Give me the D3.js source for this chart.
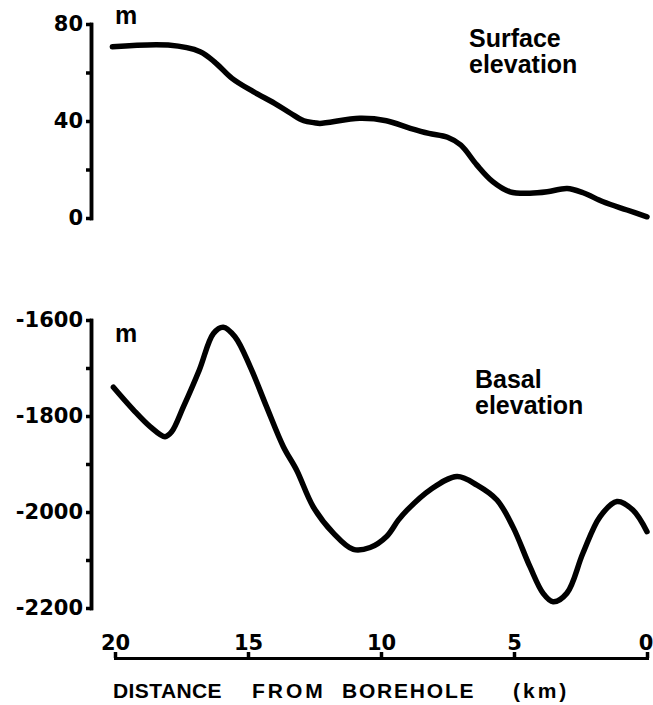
<!DOCTYPE html>
<html>
<head>
<meta charset="utf-8">
<script src="https://cdn.jsdelivr.net/npm/d3@7"></script>
<style>
  html, body { margin: 0; padding: 0; background: #fff; }
  svg { display: block; }
</style>
</head>
<body>
<svg id="chart" width="653" height="705"></svg>
<script>
// ---- data (distance from borehole in km, elevation in m) ----
const surfaceKm = [20.1, 18.0, 16.8, 16.2, 15.6, 14.8, 14.0, 13.4, 12.9, 12.5, 12.3, 10.8, 9.8, 8.9, 8.2, 7.5, 7.0, 6.4, 5.8, 5.15, 4.4, 3.75, 3.0, 2.4, 1.65, 0.75, 0];
const surfaceElev = [70.6, 71.3, 68.6, 63.8, 57.6, 52.1, 47.3, 43.2, 40.1, 39.3, 39.0, 41.1, 40.1, 37.0, 34.9, 33.3, 30.1, 21.9, 15.0, 10.8, 10.2, 10.8, 12.2, 10.4, 6.7, 3.3, 0.5];

const basalKm = [20.06, 19.31, 18.68, 18.12, 17.87, 17.43, 16.83, 16.30, 15.93, 15.49, 14.92, 14.30, 13.67, 13.17, 12.55, 11.79, 11.04, 10.41, 9.79, 9.35, 9.02, 8.16, 7.14, 6.39, 5.64, 5.04, 4.40, 3.91, 3.53, 3.01, 2.41, 1.77, 1.13, 0.53, 0];
const basalElev = [-1740, -1787, -1822, -1843, -1833, -1781, -1704, -1628, -1615, -1635, -1697, -1781, -1864, -1913, -1989, -2044, -2078, -2074, -2051, -2017, -1996, -1954, -1926, -1944, -1975, -2031, -2114, -2169, -2187, -2169, -2086, -2010, -1978, -1996, -2041];

const distanceTicks = [20, 15, 10, 5, 0];
const surfaceTicks = [0, 40, 80];
const surfaceMinorTicks = [20, 60];
const basalTicks = [-2200, -2000, -1800, -1600];
const basalMinorTicks = [-2100, -1900, -1700];

const unitLabel = "m";
const surfaceTitle = ["Surface", "elevation"];
const basalTitle = ["Basal", "elevation"];
const xTitleWords = ["DISTANCE", "FROM", "BOREHOLE", "(km)"];

// ---- layout ----
const svg = d3.select("#chart");
const yAxisX = 91;
const xAxisY = 658;
const tickFont = "'DejaVu Sans', sans-serif";
const textFont = "'Liberation Sans', Arial, sans-serif";

const x = d3.scaleLinear().domain([20, 0]).range([115, 647]);
const ySurf = d3.scaleLinear().domain([0, 80]).range([218, 24]);
const yBase = d3.scaleLinear().domain([-2200, -1600]).range([608, 320]);

function styleAxis(g, width) {
  g.selectAll(".domain").attr("stroke", "#000").attr("stroke-width", width).attr("stroke-linecap", "square");
  g.selectAll(".tick line").attr("stroke", "#000").attr("stroke-width", 3.5);
  g.selectAll(".tick text")
    .attr("fill", "#000")
    .style("font-family", tickFont)
    .style("font-weight", "bold")
    .style("font-size", "21px");
}

function yAxisPanel(scale, major, minor) {
  const gMinor = svg.append("g").attr("transform", `translate(${yAxisX},0)`)
    .call(d3.axisLeft(scale).tickValues(minor).tickSize(5).tickSizeOuter(0).tickFormat(""));
  styleAxis(gMinor, 3.5);
  const gMajor = svg.append("g").attr("transform", `translate(${yAxisX},0)`)
    .call(d3.axisLeft(scale).tickValues(major).tickSize(5).tickSizeOuter(0).tickPadding(3).tickFormat(d => String(d)));
  styleAxis(gMajor, 3.5);
}

yAxisPanel(ySurf, surfaceTicks, surfaceMinorTicks);
yAxisPanel(yBase, basalTicks, basalMinorTicks);

// x axis (ticks point up, labels above)
const gx = svg.append("g").attr("transform", `translate(0,${xAxisY})`)
  .call(d3.axisTop(x).tickValues(distanceTicks).tickSize(6).tickSizeOuter(0).tickPadding(2).tickFormat(d => String(d)));
styleAxis(gx, 3);
// keep the last label ("0") inside the picture edge
gx.selectAll(".tick text").filter(d => d === 0).attr("dx", "-1.5");

// curves
const line = (ys) => d3.line()
  .x(d => x(d[0]))
  .y(d => ys(d[1]))
  .curve(d3.curveCatmullRom.alpha(0.5));

svg.append("path")
  .datum(d3.zip(surfaceKm, surfaceElev))
  .attr("d", line(ySurf))
  .attr("fill", "none").attr("stroke", "#000").attr("stroke-width", 5.5)
  .attr("stroke-linecap", "round").attr("stroke-linejoin", "round");

svg.append("path")
  .datum(d3.zip(basalKm, basalElev))
  .attr("d", line(yBase))
  .attr("fill", "none").attr("stroke", "#000").attr("stroke-width", 5.5)
  .attr("stroke-linecap", "round").attr("stroke-linejoin", "round");

// unit labels
[[115, 24], [115, 342]].forEach(([tx, ty]) => {
  svg.append("text").attr("x", tx).attr("y", ty).text(unitLabel)
    .style("font-family", textFont).style("font-weight", "bold").style("font-size", "25px");
});

// panel titles
function title(lines, tx, ty, dyLine, size) {
  lines.forEach((s, i) => {
    svg.append("text").attr("x", tx).attr("y", ty + i * dyLine).text(s)
      .style("font-family", textFont).style("font-weight", "bold").style("font-size", size + "px");
  });
}
title(surfaceTitle, 469, 47, 26, 25);
title(basalTitle, 475, 388, 26, 25);

// x axis title
const wordX = [113, 252, 342, 513];
const wordSpacing = [0.4, 3, 1.8, 3];
xTitleWords.forEach((w, i) => {
  svg.append("text").attr("x", wordX[i]).attr("y", 698).text(w)
    .style("font-family", textFont).style("font-weight", "bold").style("font-size", "21px")
    .style("letter-spacing", wordSpacing[i] + "px");
});
</script>
</body>
</html>
